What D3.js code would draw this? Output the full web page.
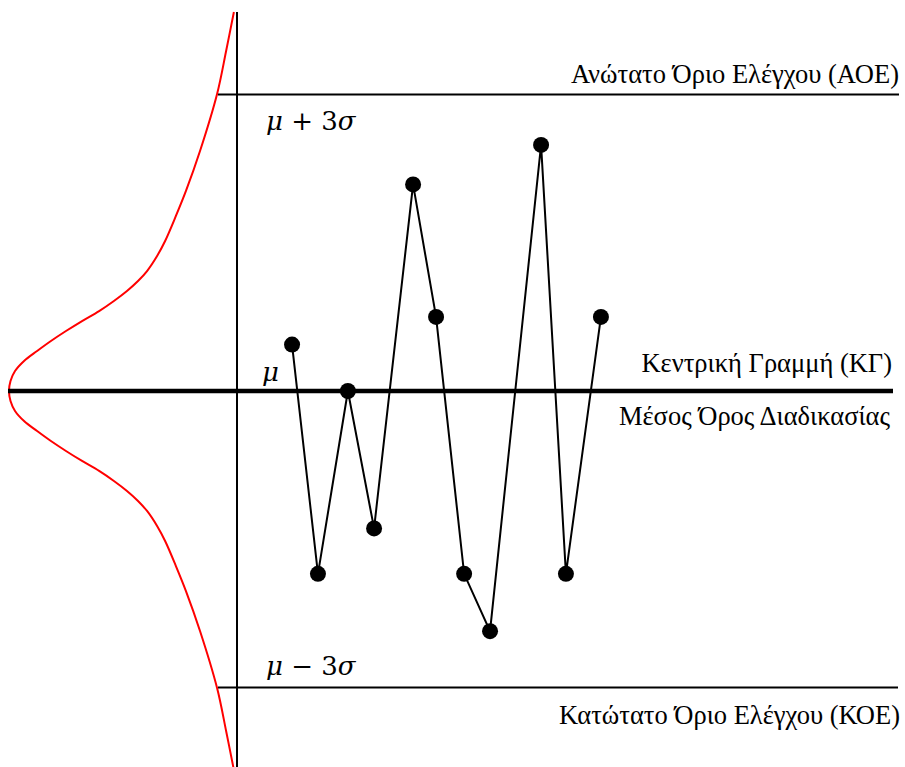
<!DOCTYPE html>
<html>
<head>
<meta charset="utf-8">
<script src="https://cdn.jsdelivr.net/npm/d3@7/dist/d3.min.js"></script>
<style>
  html, body { margin: 0; padding: 0; background: #fff; }
  svg { display: block; }
</style>
</head>
<body>
<svg id="chart" width="905" height="767"></svg>
<script>
// Sample index (time position) and measurement in sigma units from the mean
const sampleT = [2.06, 3.03, 4.15, 5.13, 6.59, 7.45, 8.50, 9.47, 11.38, 12.31, 13.62];
const sampleZ = [0.47, -1.85, 0.00, -1.39, 2.09, 0.75, -1.85, -2.43, 2.49, -1.85, 0.75];

// Control limits in sigma units
const limitZ = { ucl: 3, cl: 0, lcl: -3 };

// Distribution profile drawn beside the axis (sigma offset, relative density)
const profileZ    = [0, 0.101, 0.202, 0.304, 0.405, 0.506, 0.607, 0.708, 0.809, 0.911, 1.012,
                     1.113, 1.214, 1.366, 1.518, 1.771, 2.024, 2.428, 3.005, 3.440, 3.835];
const profileDens = [1.0, 0.994, 0.976, 0.940, 0.888, 0.833, 0.773, 0.709, 0.641, 0.582, 0.530,
                     0.486, 0.450, 0.410, 0.378, 0.335, 0.295, 0.239, 0.171, 0.135, 0.104];

// Text labels
const uclLabel = "Ανώτατο Όριο Ελέγχου (ΑΟΕ)";
const clLabel1 = "Κεντρική Γραμμή (ΚΓ)";
const clLabel2 = "Μέσος Όρος Διαδικασίας";
const lclLabel = "Κατώτατο Όριο Ελέγχου (ΚΟΕ)";

const svg = d3.select("#chart");

const axisX = 237;
const y = d3.scaleLinear().domain([-3, 3]).range([687.5, 94.5]);
const x = d3.scaleLinear().domain([0, 25]).range([axisX, axisX + 668]);
const dens = d3.scaleLinear().domain([0, 1]).range([260, 9]);

// Distribution curve (mirrored about the mean)
const profile = [];
for (let i = profileZ.length - 1; i > 0; i--) profile.push([-profileZ[i], profileDens[i]]);
for (let i = 0; i < profileZ.length; i++) profile.push([profileZ[i], profileDens[i]]);

svg.append("path")
  .datum(profile)
  .attr("fill", "none")
  .attr("stroke", "#ff0000")
  .attr("stroke-width", 2)
  .attr("d", d3.line()
    .x(d => dens(d[1]))
    .y(d => y(d[0]))
    .curve(d3.curveCatmullRom.alpha(0.5)));

// Vertical axis
svg.append("line")
  .attr("x1", axisX).attr("x2", axisX)
  .attr("y1", 12).attr("y2", 767)
  .attr("stroke", "#000").attr("stroke-width", 2);

// Control limit lines
svg.append("line")
  .attr("x1", 218).attr("x2", 899)
  .attr("y1", y(limitZ.ucl)).attr("y2", y(limitZ.ucl))
  .attr("stroke", "#000").attr("stroke-width", 1.8);
svg.append("line")
  .attr("x1", 218).attr("x2", 898)
  .attr("y1", y(limitZ.lcl)).attr("y2", y(limitZ.lcl))
  .attr("stroke", "#000").attr("stroke-width", 1.8);
svg.append("line")
  .attr("x1", 8).attr("x2", 893)
  .attr("y1", y(limitZ.cl)).attr("y2", y(limitZ.cl))
  .attr("stroke", "#000").attr("stroke-width", 4.5);

// Sample series
const pts = sampleT.map((t, i) => [t, sampleZ[i]]);
svg.append("path")
  .datum(pts)
  .attr("fill", "none")
  .attr("stroke", "#000")
  .attr("stroke-width", 2)
  .attr("d", d3.line().x(d => x(d[0])).y(d => y(d[1])));

svg.selectAll("circle.pt")
  .data(pts)
  .join("circle")
  .attr("class", "pt")
  .attr("cx", d => x(d[0]))
  .attr("cy", d => y(d[1]))
  .attr("r", 8)
  .attr("fill", "#000");

// Right-hand labels
const serif = "'Liberation Serif', 'Times New Roman', serif";
function label(txt, xe, yb) {
  svg.append("text")
    .attr("x", xe).attr("y", yb)
    .attr("text-anchor", "end")
    .attr("font-family", serif)
    .attr("font-size", 26.5)
    .attr("fill", "#000")
    .text(txt);
}
label(uclLabel, 899, 83);
label(clLabel1, 892, 372);
label(clLabel2, 890, 425);
label(lclLabel, 900, 724);

// Math labels
const mathFont = "'DejaVu Serif', serif";
function mathLabel(parts, xs, yb) {
  const t = svg.append("text")
    .attr("x", xs).attr("y", yb)
    .attr("font-family", mathFont)
    .attr("font-size", 26)
    .attr("fill", "#000")
    .attr("xml:space", "preserve");
  parts.forEach(p => {
    t.append("tspan")
      .attr("font-style", p.it ? "italic" : "normal")
      .text(p.s);
  });
}
mathLabel([{s: "μ", it: true}, {s: " + 3"}, {s: "σ", it: true}], 266, 130);
mathLabel([{s: "μ", it: true}, {s: " − 3"}, {s: "σ", it: true}], 266, 675);
mathLabel([{s: "μ", it: true}], 262, 381);
</script>
</body>
</html>
